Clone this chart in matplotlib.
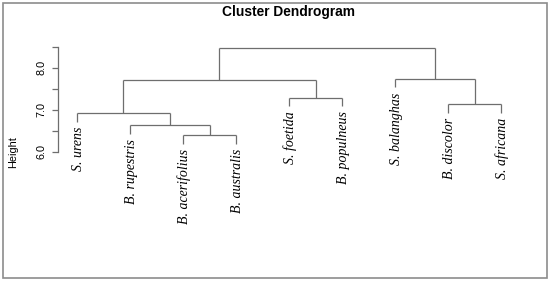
import matplotlib.pyplot as plt
from matplotlib.patches import Rectangle

plt.rcParams.update({
    "font.family": "Liberation Sans",
    "font.size": 7,
})

# leaves in plotting order
labels = ["S. urens", "B. rupestris", "B. acerifolius", "B. australis",
          "S. foetida", "B. populneus", "S. balanghas", "B. discolor",
          "S. africana"]
# merges: ids 0-8 are leaves, each merge creates id 9, 10, ...
merge_pairs = [(2, 3), (1, 9), (0, 10), (7, 8), (4, 5),
               (11, 13), (6, 12), (14, 15)]
merge_heights = [6.40, 6.63, 6.92, 7.13, 7.29, 7.70, 7.74, 8.48]
yticks = [6.0, 6.5, 7.0, 7.5, 8.0, 8.5]
yticklabels = ["6.0", "", "7.0", "", "8.0", ""]

W, H = 550, 281
fig = plt.figure(figsize=(W / 100, H / 100), dpi=100)
ax = fig.add_axes([0, 0, 1, 1])

# pixel layout of the R plot
leaf_px, step_px = 77, 53
base_py, unit_px = 151.7, 42
ax.set_xlim(1 - leaf_px / step_px, 1 + (W - leaf_px) / step_px)
ax.set_ylim(6 - (H - base_py) / unit_px, 6 + base_py / unit_px)

line_kw = dict(color="#6e6e6e", lw=0.9, solid_capstyle="butt")
hang = 0.1 * (max(merge_heights) - min(merge_heights))

xpos = {i: i + 1 for i in range(len(labels))}
ypos = {i: None for i in range(len(labels))}
for k, ((a, b), h) in enumerate(zip(merge_pairs, merge_heights)):
    cid = len(labels) + k
    for c in (a, b):
        if c < len(labels):
            bottom = h - hang
            ax.text(xpos[c] + 0.02, bottom - 0.12, labels[c], rotation=90,
                    ha="center", va="top", fontsize=10,
                    family="Liberation Serif", style="italic")
        else:
            bottom = ypos[c]
        ax.plot([xpos[c], xpos[c]], [bottom, h], **line_kw)
    ax.plot([xpos[a], xpos[b]], [h, h], **line_kw)
    xpos[cid] = (xpos[a] + xpos[b]) / 2
    ypos[cid] = h

# y axis like R
for s in ["top", "right", "bottom"]:
    ax.spines[s].set_visible(False)
ax.spines["left"].set_position(("data", 1 + (58 - leaf_px) / step_px))
ax.spines["left"].set_bounds(yticks[0], yticks[-1])
ax.spines["left"].set_color("#6e6e6e")
ax.spines["left"].set_linewidth(0.9)
ax.set_xticks([])
ax.set_yticks(yticks)
ax.set_yticklabels(yticklabels, rotation=90, va="center")
ax.tick_params(axis="y", length=4.5, width=0.9, color="#6e6e6e", pad=4,
               labelsize=7.8)

fig.text(288 / W, 1 - 12 / H, "Cluster Dendrogram", ha="center",
         va="center", fontsize=9.9, weight="bold")
fig.text(13 / W, 1 - 152 / H, "Height", rotation=90, ha="center",
         va="center", fontsize=7.8)

fig.patches.append(Rectangle((3 / W, 3 / H), 544 / W, 275 / H,
                             transform=fig.transFigure, fill=False,
                             ec="#8c8c8c", lw=1.2))

fig.savefig("out.png", dpi=100)
